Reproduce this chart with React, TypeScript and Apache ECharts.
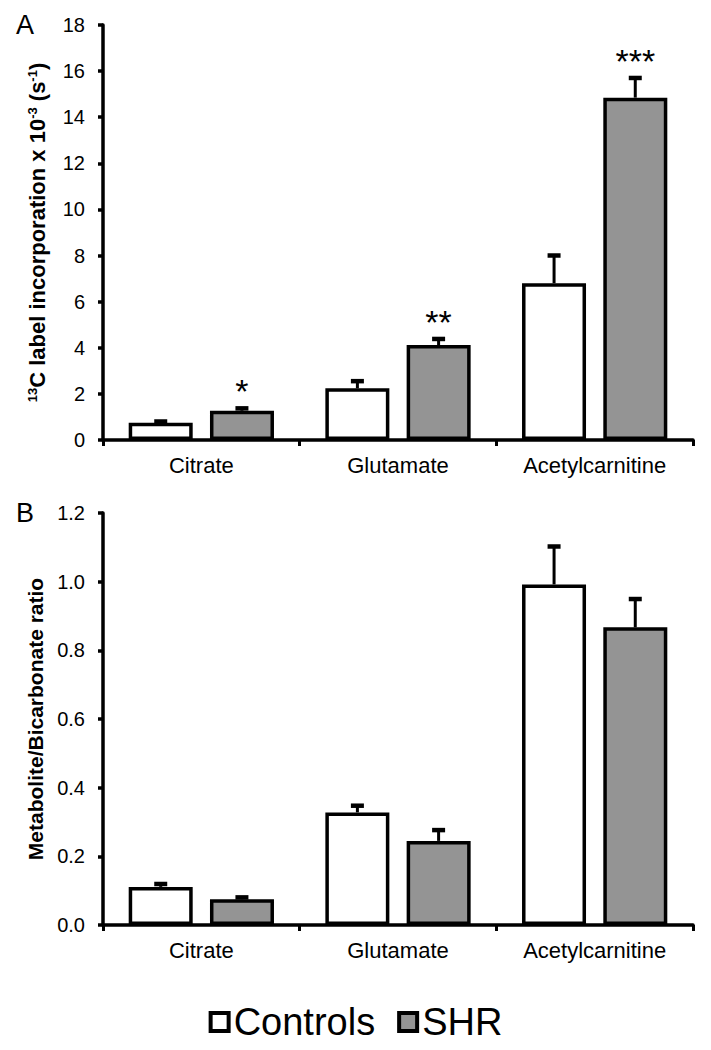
import React, { useEffect, useRef } from "react";
import * as echarts from "echarts";

const categories = ["Citrate", "Glutamate", "Acetylcarnitine"];
const seriesNames = ["Controls", "SHR"];

// Panel A: 13C label incorporation x 10^-3 (s^-1)
const aControls = [0.75, 2.24, 6.8];
const aControlsErr = [0.15, 0.41, 1.3];
const aSHR = [1.27, 4.12, 14.85];
const aSHRErr = [0.2, 0.36, 0.95];
const aStars = ["*", "**", "***"];

// Panel B: Metabolite/Bicarbonate ratio
const bControls = [0.111, 0.328, 0.992];
const bControlsErr = [0.015, 0.026, 0.117];
const bSHR = [0.075, 0.245, 0.867];
const bSHRErr = [0.012, 0.038, 0.089];

const FONT = "'Liberation Sans', Arial, sans-serif";
const BAR_OFFSET = 40.6;

function errSeries(means: number[], errs: number[], side: number, xIdx: number) {
  return {
    type: "custom",
    xAxisIndex: xIdx,
    yAxisIndex: xIdx,
    z: 5,
    silent: true,
    data: means.map((m, i) => [i, m, m + errs[i]]),
    renderItem: (params: any, api: any) => {
      const p0 = api.coord([api.value(0), api.value(1)]);
      const p1 = api.coord([api.value(0), api.value(2)]);
      const x = p0[0] + side * BAR_OFFSET;
      return {
        type: "group",
        children: [
          {
            type: "line",
            shape: { x1: x, y1: p0[1], x2: x, y2: p1[1] + 2 },
            style: { stroke: "#000", lineWidth: 3 },
          },
          {
            type: "rect",
            shape: { x: x - 6.5, y: p1[1], width: 13, height: 4.5 },
            style: { fill: "#000" },
          },
        ],
      };
    },
  };
}

function starSeries(means: number[], errs: number[], stars: string[]) {
  return {
    type: "custom",
    xAxisIndex: 0,
    yAxisIndex: 0,
    z: 6,
    silent: true,
    data: means.map((m, i) => [i, m + errs[i]]),
    renderItem: (params: any, api: any) => {
      const p = api.coord([api.value(0), api.value(1)]);
      return {
        type: "text",
        x: p[0] + BAR_OFFSET,
        y: p[1] - 15,
        style: {
          text: stars[params.dataIndex],
          fontSize: 34,
          fontFamily: FONT,
          fill: "#000",
          align: "center",
          verticalAlign: "middle",
        },
      };
    },
  };
}

export default function App() {
  const ref = useRef<HTMLDivElement>(null);
  useEffect(() => {
    if (!ref.current) return;
    const chart = echarts.init(ref.current, undefined, { renderer: "svg" });
    const barStyle = (fill: string) => ({
      color: fill,
      borderColor: "#000",
      borderWidth: 3.5,
    });
    const xAxisBase = (gridIndex: number) => ({
      type: "category",
      gridIndex,
      data: categories,
      boundaryGap: true,
      axisLine: { lineStyle: { color: "#000", width: 3.5 } },
      axisTick: { show: true, length: 6, lineStyle: { color: "#000", width: 3 } },
      axisLabel: { color: "#000", fontSize: 22, fontFamily: FONT, margin: 14 },
      splitLine: { show: false },
    });
    const yAxisBase = (gridIndex: number) => ({
      type: "value",
      gridIndex,
      min: 0,
      axisLine: { show: true, lineStyle: { color: "#000", width: 3.5 } },
      axisTick: { show: true, length: 5, lineStyle: { color: "#000", width: 3.5 } },
      splitLine: { show: false },
      nameLocation: "middle",
      nameRotate: 90,
      nameGap: 55,
    });
    chart.setOption({
      animation: false,
      backgroundColor: "#fff",
      grid: [
        { left: 103, width: 590, top: 25, height: 415 },
        { left: 103, width: 590, top: 513, height: 412 },
      ],
      legend: {
        data: seriesNames,
        left: "center",
        top: 998,
        icon: "rect",
        itemWidth: 18,
        itemHeight: 18,
        itemGap: 22,
        selectedMode: false,
        itemStyle: { borderColor: "#000", borderWidth: 4 },
        textStyle: { fontSize: 38, color: "#000", fontFamily: FONT },
      },
      xAxis: [xAxisBase(0), xAxisBase(1)],
      yAxis: [
        {
          ...yAxisBase(0),
          max: 18,
          interval: 2,
          axisLabel: { color: "#000", fontSize: 20, fontFamily: FONT, margin: 18 },
          name: "{sup|13}C label incorporation x 10{sup|-3} (s{sup|-1})",
          nameTextStyle: {
            fontSize: 22,
            fontWeight: "bold",
            fontFamily: FONT,
            color: "#000",
            rich: {
              sup: { fontSize: 13, fontWeight: "bold", fontFamily: FONT, color: "#000", verticalAlign: "top" },
            },
          },
        },
        {
          ...yAxisBase(1),
          max: 1.2,
          interval: 0.2,
          axisLabel: {
            color: "#000",
            fontSize: 20,
            fontFamily: FONT,
            margin: 18,
            formatter: (v: number) => v.toFixed(1),
          },
          name: "Metabolite/Bicarbonate ratio",
          nameTextStyle: { fontSize: 21, fontWeight: "bold", fontFamily: FONT, color: "#000" },
        },
      ],
      graphic: [
        { type: "text", left: 16, top: 11, style: { text: "A", fontSize: 27, fontFamily: FONT, fill: "#000" } },
        { type: "text", left: 16, top: 499, style: { text: "B", fontSize: 27, fontFamily: FONT, fill: "#000" } },
      ],
      series: [
        {
          name: "Controls",
          type: "bar",
          xAxisIndex: 0,
          yAxisIndex: 0,
          data: aControls,
          barWidth: 64,
          barGap: "27%",
          itemStyle: barStyle("#ffffff"),
        },
        {
          name: "SHR",
          type: "bar",
          xAxisIndex: 0,
          yAxisIndex: 0,
          data: aSHR,
          barWidth: 64,
          barGap: "27%",
          itemStyle: barStyle("#949494"),
        },
        errSeries(aControls, aControlsErr, -1, 0),
        errSeries(aSHR, aSHRErr, 1, 0),
        starSeries(aSHR, aSHRErr, aStars),
        {
          name: "Controls",
          type: "bar",
          xAxisIndex: 1,
          yAxisIndex: 1,
          data: bControls,
          barWidth: 64,
          barGap: "27%",
          itemStyle: barStyle("#ffffff"),
        },
        {
          name: "SHR",
          type: "bar",
          xAxisIndex: 1,
          yAxisIndex: 1,
          data: bSHR,
          barWidth: 64,
          barGap: "27%",
          itemStyle: barStyle("#949494"),
        },
        errSeries(bControls, bControlsErr, -1, 1),
        errSeries(bSHR, bSHRErr, 1, 1),
      ],
    });
    return () => chart.dispose();
  }, []);
  return (
    <div
      ref={ref}
      style={{ position: "absolute", left: 0, top: 0, width: 711, height: 1050, background: "#fff" }}
    />
  );
}
